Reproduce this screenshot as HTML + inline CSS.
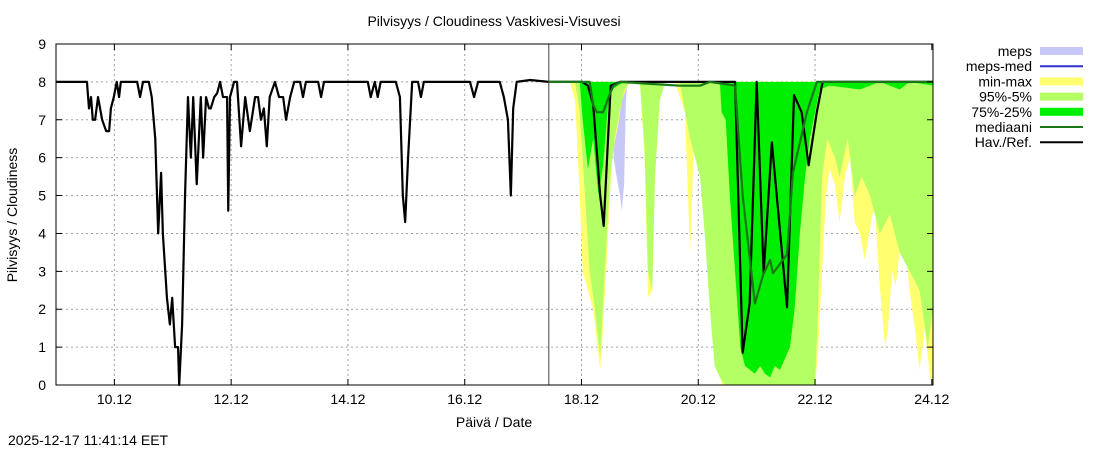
<!DOCTYPE html>
<html><head><meta charset="utf-8"><style>
body{margin:0;background:#fff;}
svg{display:block;font-family:"Liberation Sans",sans-serif;}
</style></head><body>
<svg id="c" width="1100" height="450">
<text x="494" y="26" text-anchor="middle" font-size="14">Pilvisyys / Cloudiness Vaskivesi-Visuvesi</text>
<text transform="translate(17,215) rotate(-90)" text-anchor="middle" font-size="14">Pilvisyys / Cloudiness</text>
<text x="494" y="427" text-anchor="middle" font-size="14">Päivä / Date</text>
<text x="8" y="445" font-size="14">2025-12-17 11:41:14 EET</text>
<g id="grid"></g><g id="marks"></g><g id="axes"></g><g id="legend"></g>
</svg>
<script>
const yTicks=[0,1,2,3,4,5,6,7,8,9];
const xTickDays=[10,12,14,16,18,20,22,24];
const xTickLabels=["10.12","12.12","14.12","16.12","18.12","20.12","22.12","24.12"];
const obsT=[9.00,9.53,9.565,9.60,9.63,9.67,9.72,9.79,9.86,9.91,9.94,9.99,10.04,10.08,10.11,10.39,10.44,10.49,10.59,10.64,10.70,10.75,10.80,10.83,10.90,10.95,10.99,11.04,11.09,11.11,11.16,11.21,11.26,11.31,11.35,11.41,11.48,11.52,11.57,11.62,11.65,11.71,11.76,11.81,11.86,11.93,11.95,11.98,12.05,12.10,12.17,12.24,12.32,12.41,12.46,12.51,12.56,12.61,12.66,12.75,12.82,12.89,12.94,13.01,13.08,13.18,13.23,13.28,13.49,13.54,13.59,14.34,14.39,14.46,14.51,14.56,14.82,14.89,14.94,14.98,15.03,15.10,15.20,15.25,15.30,16.09,16.16,16.23,16.60,16.67,16.74,16.79,16.83,16.89,17.12,17.44,18.01,18.11,18.20,18.32,18.38,18.50,18.66,20.63,20.76,20.88,21.00,21.12,21.26,21.52,21.64,21.77,21.89,22.03,22.13,24.02];
const obsV=[8,8,7.3,7.6,7.0,7.0,7.6,7.0,6.7,6.7,7.3,7.6,8,7.6,8,8,7.6,8,8,7.6,6.5,4.0,5.6,4.0,2.3,1.6,2.3,1.0,1.0,0,1.6,5.0,7.6,6.0,7.6,5.3,7.6,6.0,7.6,7.3,7.3,7.6,7.7,8,7.6,7.6,4.6,7.6,8,8,6.3,7.6,6.7,7.6,7.6,7.0,7.3,6.3,7.6,8,7.6,7.6,7.0,7.6,8,8,7.6,8,8,7.6,8,8,7.6,8,7.6,8,8,7.6,5,4.3,6,8,8,7.6,8,8,7.6,8,8,7.6,7.0,5,7.3,8,8.05,8,8,7.9,7.4,5,4.2,7.9,8,8,0.85,2.15,8,2.95,6.4,2.05,7.65,7.2,5.8,7.2,8,8];
const medT=[17.44,18.14,18.20,18.26,18.37,18.49,18.55,18.66,19.68,20.03,20.20,20.63,20.76,20.97,21.11,21.23,21.28,21.40,21.52,21.62,21.86,22.03,24.02];
const medV=[8,8,7.4,7.2,7.2,7.7,7.9,8,7.9,7.9,8,7.9,5,2.15,2.9,3.3,2.95,3.2,3.45,5.6,7.2,8,8];
const bandTop=8;
const minT=[17.80,17.89,17.97,18.02,18.11,18.20,18.32,18.37,18.44,18.52,18.62,18.69,18.76,18.83,19.00,19.08,19.14,19.21,19.26,19.34,19.60,19.77,19.86,19.94,20.03,20.11,20.23,20.34,20.40,22.00,22.05,22.12,22.19,22.25,22.34,22.42,22.51,22.60,22.68,22.77,22.85,22.94,23.02,23.11,23.20,23.25,23.32,23.38,23.45,23.54,23.62,23.71,23.79,23.88,23.97,24.02];
const minV=[8,7.5,5,3,2.5,2,0.4,1.5,3.5,6,6.8,7.5,7.8,8,8,6,2.3,2.5,6,8,8,7.2,3.5,7,7.9,6,3,0.5,0,0,0.8,3,5,5.7,5.3,4.3,5.5,6,4.3,4,3.3,4.1,4.8,2.6,1,1.5,3,2.6,3.5,3.8,2.5,1.5,0.4,1.5,0.2,0];
const p5T=[17.89,17.97,18.06,18.14,18.23,18.32,18.40,18.49,18.57,18.66,18.74,18.83,19.00,19.08,19.14,19.21,19.26,19.34,19.43,19.68,19.86,20.03,20.11,20.20,20.28,20.37,20.46,22.00,22.05,22.12,22.21,22.34,22.42,22.56,22.68,22.80,22.94,23.11,23.28,23.45,23.62,23.79,23.93,24.02];
const p5V=[8,7.2,5,3,2,0.75,3,5.5,6.5,7.3,7.8,8,8,6.3,3,2.5,5.5,7.5,8,8,6.5,5.5,4,2,0.5,0.2,0,0,2,5.5,6.5,6,5.5,6.5,5,5.5,5,4,4.5,3.5,3,2.5,1,2];
const p25T=[17.97,18.02,18.11,18.20,18.29,18.37,18.45,18.52,18.62,18.74,20.37,20.40,20.47,20.54,20.63,20.72,20.80,20.97,21.06,21.14,21.23,21.31,21.40,21.57,21.65,21.74,21.83,21.91,22.00,22.08,22.25,22.77,23.11,23.45,23.62,24.02];
const p25V=[8,7,5.7,6.5,5,5.8,7.3,7.8,7.9,8,8,7.2,7,5,3,1,0.5,0.3,0.5,0.3,0.2,0.5,0.4,1,2,4,5.5,6.5,7.2,7.8,7.9,7.8,8,7.8,8,7.9];
const mepsT=[18.52,18.55,18.60,18.66,18.69,18.73,18.76,18.79];
const mepsV=[8,6,5.5,5,4.6,5.3,7.5,8];
const nowDay=17.44;

const X0=56,X1=933,Y0=385,Y1=44,D0=9,D1=24.02;
const xs=d=>X0+(d-D0)/(D1-D0)*(X1-X0);
const ys=v=>Y0-v/9*(Y0-Y1);
const NS="http://www.w3.org/2000/svg";
function mk(tag,attrs,parent){const e=document.createElementNS(NS,tag);for(const k in attrs)e.setAttribute(k,attrs[k]);document.getElementById(parent).appendChild(e);return e;}
for(const v of yTicks){
  if(v>0&&v<9){const g=mk('line',{x1:X0,x2:X1,y1:ys(v),y2:ys(v),stroke:'#a0a0a0','stroke-dasharray':'2,3'},'grid');
  
  }
  const tk=mk('path',{d:'M'+X0+','+ys(v)+'h6M'+X1+','+ys(v)+'h-6',stroke:'#000'},'axes');
  
  
  const t=mk('text',{x:X0-10,y:ys(v)+5,'text-anchor':'end','font-size':'14'},'axes');t.textContent=v;
  
  
}
xTickDays.forEach((d,i)=>{
  if(d<24){const g=mk('line',{x1:xs(d),x2:xs(d),y1:Y1,y2:Y0,stroke:'#a0a0a0','stroke-dasharray':'2,3'},'grid');
  
  }
  const tk=mk('path',{d:'M'+xs(d)+','+Y0+'v-6M'+xs(d)+','+Y1+'v6',stroke:'#000'},'axes');
  
  
  const t=mk('text',{x:xs(d),y:404,'text-anchor':'middle','font-size':'14'},'axes');t.textContent=xTickLabels[i];
  
  
});
function area(T,V,fill,name){
  let d='M'+xs(T[0])+','+ys(bandTop);
  for(let i=0;i<T.length;i++)d+='L'+xs(T[i])+','+ys(V[i]);
  d+='L'+xs(T[T.length-1])+','+ys(bandTop)+'Z';
  const p=mk('path',{d:d,fill:fill},'marks');
  
  
}
function line(T,V,stroke,w,name){
  const p=mk('polyline',{points:T.map((t,i)=>xs(t)+','+ys(V[i])).join(' '),fill:'none',stroke:stroke,'stroke-width':w,'stroke-linejoin':'round'},'marks');
  
  
}
area(mepsT,mepsV,'#c8c8f8','meps-area');
area(minT,minV,'#ffff70','min-max-area');
area(p5T,p5V,'#b4ff64','p95-p5-area');
area(p25T,p25V,'#00ee00','p75-p25-area');
line(obsT,obsV,'#000','2.2','observed-line');
line(medT,medV,'#187818','2.2','median-line');
const nl=mk('line',{x1:xs(nowDay),x2:xs(nowDay),y1:Y1,y2:Y0,stroke:'#444','stroke-width':1},'marks');


const fr=mk('rect',{x:X0,y:Y1,width:X1-X0,height:Y0-Y1,fill:'none',stroke:'#000'},'axes');


const leg=[['meps','rect','#c8c8f8'],['meps-med','line','#3030d0'],['min-max','rect','#ffff70'],['95%-5%','rect','#b4ff64'],['75%-25%','rect','#00ee00'],['mediaani','line','#187818'],['Hav./Ref.','line','#000']];
leg.forEach((l,i)=>{
  const y=51+i*15.2;
  const t=mk('text',{x:1032,y:y+5,'text-anchor':'end','font-size':'14'},'legend');t.textContent=l[0];
  
  
  let s;
  if(l[1]==='rect')s=mk('rect',{x:1040,y:y-4,width:43,height:8,fill:l[2]},'legend');
  else s=mk('line',{x1:1040,x2:1083,y1:y,y2:y,stroke:l[2],'stroke-width':2},'legend');
  
  
});
</script>
</body></html>
